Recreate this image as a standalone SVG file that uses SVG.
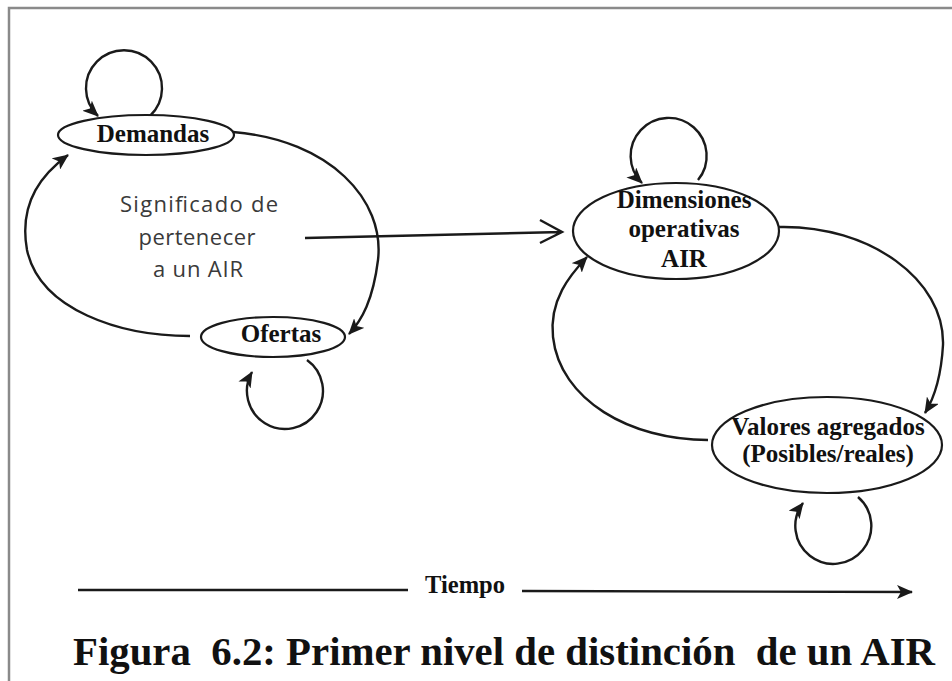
<svg xmlns="http://www.w3.org/2000/svg" width="952" height="681" viewBox="0 0 952 681">
<style>
.node{fill:#ffffff;stroke:#1a1a1a;stroke-width:2.2}
.lbl{font-family:"Liberation Serif","Times New Roman",serif;font-weight:bold;font-size:25px;fill:#111;text-anchor:middle}
.conn{fill:none;stroke:#1a1a1a;stroke-width:2.4}
.sig{font-family:"Open Sans","Liberation Sans",sans-serif;font-size:22px;fill:#3a3a3a;text-anchor:middle}
</style>
<defs>
<marker id="ah" markerUnits="userSpaceOnUse" markerWidth="18" markerHeight="14" refX="15" refY="7" orient="auto">
<path d="M0,0 L16,7 L0,14 L4,7 Z" fill="#1a1a1a"/>
</marker>
</defs>
<rect width="952" height="681" fill="#ffffff"/>
<path d="M9,681 V8 H952" fill="none" stroke="#8a8a8a" stroke-width="2.5"/>

<g id="connectors">
<path class="conn" d="M150,116 A38,38 0 1 0 98,116" marker-end="url(#ah)"/>
<path class="conn" d="M233,132 C330,140 385,200 378,260 C373,300 362,320 349,334" marker-end="url(#ah)"/>
<path class="conn" d="M307,360 A38,38 0 1 1 252,372" marker-end="url(#ah)"/>
<path class="conn" d="M190,336 C120,336 40,310 27,250 C18,200 45,172 68,155" marker-end="url(#ah)"/>
<path class="conn" d="M698,180 A38,38 0 1 0 642,183" marker-end="url(#ah)"/>
<path class="conn" d="M779,227 C870,225 945,280 943,345 C941,380 933,400 925,413" marker-end="url(#ah)"/>
<path class="conn" d="M858,497 A38,38 0 1 1 803,503" marker-end="url(#ah)"/>
<path class="conn" d="M708,440 C630,440 560,400 553,337 C549,300 570,275 587,257" marker-end="url(#ah)"/>
<path class="conn" d="M305,238 L562,232 M540,220 L562,232 L540,243"/>
<path class="conn" d="M78,590 H408"/>
<path class="conn" d="M522,591 L912,592" marker-end="url(#ah)"/>
</g>

<g id="demandas">
<ellipse class="node" cx="146" cy="135" rx="88" ry="20"/>
<text class="lbl" x="153" y="142">Demandas</text>
</g>
<g id="ofertas">
<ellipse class="node" cx="273" cy="337" rx="72" ry="20"/>
<text class="lbl" x="281" y="342">Ofertas</text>
</g>
<g id="dimensiones">
<ellipse class="node" cx="676" cy="231" rx="103" ry="48"/>
<text class="lbl" x="684" y="208">Dimensiones</text>
<text class="lbl" x="684" y="237">operativas</text>
<text class="lbl" x="684" y="267">AIR</text>
</g>
<g id="valores">
<ellipse class="node" cx="827" cy="445" rx="115" ry="48"/>
<text class="lbl" x="828" y="435">Valores agregados</text>
<text class="lbl" x="828" y="462">(Posibles/reales)</text>
</g>
<g id="significado">
<text class="sig" x="199" y="212" textLength="158">Significado de</text>
<text class="sig" x="197" y="245" textLength="117">pertenecer</text>
<text class="sig" x="198" y="277" textLength="90">a un AIR</text>
</g>
<g id="tiempo">
<text x="465" y="593" font-family="Liberation Serif, serif" font-weight="bold" font-size="25" fill="#111" text-anchor="middle" textLength="80" lengthAdjust="spacingAndGlyphs">Tiempo</text>
</g>
<text x="73" y="665" font-family="Liberation Serif, serif" font-weight="bold" font-size="41" fill="#111" textLength="862" lengthAdjust="spacingAndGlyphs" xml:space="preserve">Figura  6.2: Primer nivel de distinción  de un AIR</text>
</svg>
